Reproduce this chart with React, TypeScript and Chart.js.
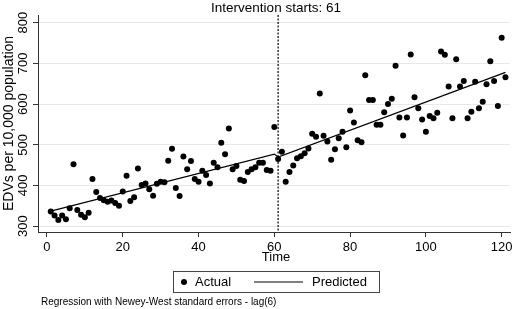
import React, { useEffect, useRef } from 'react';
import { Chart, registerables } from 'chart.js';

Chart.register(...registerables);

const FONT = '"Liberation Sans", Arial, Helvetica, sans-serif';

const titleText = 'Intervention starts: 61';
const yTitle = 'EDVs per 10,000 population';
const xTitle = 'Time';
const noteText = 'Regression with Newey-West standard errors - lag(6)';
const seriesNames = ['Actual', 'Predicted'];

const firstTime = 1;
const interventionTime = 61;

// Actual EDVs, time 1..121
const actualValues = [
  336, 326, 315, 326, 317, 344, 452, 340, 328, 322,
  333, 416, 384, 369, 364, 360, 363, 357, 350, 385,
  424, 362, 371, 442, 401, 405, 391, 375, 404, 409,
  408, 461, 490, 394, 374, 471, 440, 460, 416, 409,
  436, 426, 405, 456, 445, 505, 477, 540, 440, 448,
  414, 411, 433, 440, 445, 456, 456, 438, 436, 544,
  465, 483, 409, 433, 449, 467, 472, 479, 491, 527,
  520, 626, 522, 508, 463, 489, 516, 532, 494, 584,
  555, 511, 506, 671, 610, 610, 549, 549, 580, 600,
  613, 694, 567, 523, 567, 722, 617, 590, 562, 532,
  571, 565, 579, 729, 721, 643, 565, 710, 643, 657,
  565, 581, 655, 590, 606, 649, 705, 657, 595, 763,
  666,
];

// Predicted (segmented regression) line end points
const predictedTimes = [1, 60, 61, 121];
const predictedValues = [337, 477, 470, 678];

const xTickValues = [0, 20, 40, 60, 80, 100, 120];
const yTickValues = [300, 400, 500, 600, 700, 800];

const xMin = -2.37;
const xMax = 122.2;
const yMin = 285.7;
const yMax = 818.9;

const decorPlugin = {
  id: 'decor',
  beforeDatasetsDraw(chart: any) {
    const ctx = chart.ctx;
    const xs = chart.scales.x;
    const area = chart.chartArea;
    const xi = xs.getPixelForValue(interventionTime);
    ctx.save();
    ctx.strokeStyle = '#000';
    ctx.lineWidth = 1.2;
    ctx.setLineDash([2, 1.5]);
    ctx.beginPath();
    ctx.moveTo(xi, area.top);
    ctx.lineTo(xi, area.bottom);
    ctx.stroke();
    ctx.restore();
  },
  afterDraw(chart: any) {
    const ctx = chart.ctx;
    const ys = chart.scales.y;
    const area = chart.chartArea;
    const cx = 276;
    ctx.save();
    ctx.fillStyle = '#000';
    ctx.font = `13px ${FONT}`;
    ctx.textAlign = 'center';
    ctx.textBaseline = 'middle';
    // y tick labels (vertical)
    for (const v of yTickValues) {
      const py = ys.getPixelForValue(v);
      ctx.save();
      ctx.translate(23, py);
      ctx.rotate(-Math.PI / 2);
      ctx.fillText(String(v), 0, 0);
      ctx.restore();
    }
    // y title
    ctx.save();
    ctx.font = `14px ${FONT}`;
    ctx.translate(9, (area.top + area.bottom) / 2);
    ctx.rotate(-Math.PI / 2);
    ctx.fillText(yTitle, 0, 0);
    ctx.restore();
    // x title
    ctx.fillText(xTitle, cx, 257);
    // title
    ctx.font = `13.5px ${FONT}`;
    ctx.fillText(titleText, cx, 8);
    // legend
    ctx.font = `13px ${FONT}`;
    ctx.strokeStyle = '#444';
    ctx.lineWidth = 1;
    ctx.strokeRect(173.5, 271.5, 206, 21);
    ctx.beginPath();
    ctx.arc(184, 282, 3, 0, Math.PI * 2);
    ctx.fill();
    ctx.textAlign = 'left';
    ctx.fillText(seriesNames[0], 195, 282);
    ctx.strokeStyle = '#000';
    ctx.lineWidth = 1.2;
    ctx.beginPath();
    ctx.moveTo(254, 282);
    ctx.lineTo(303, 282);
    ctx.stroke();
    ctx.fillText(seriesNames[1], 312, 282);
    // note
    ctx.font = `10px ${FONT}`;
    ctx.fillText(noteText, 41, 302);
    ctx.restore();
  },
};

export default function App() {
  const canvasRef = useRef<HTMLCanvasElement | null>(null);

  useEffect(() => {
    document.body.style.margin = '0';
    document.body.style.background = '#fff';
    const canvas = canvasRef.current;
    if (!canvas) return;
    const actualData = actualValues.map((v, i) => ({ x: firstTime + i, y: v }));
    const predictedData = predictedTimes.map((t, i) => ({ x: t, y: predictedValues[i] }));
    const chart = new Chart(canvas, {
      type: 'scatter',
      data: {
        datasets: [
          {
            label: seriesNames[0],
            data: actualData,
            backgroundColor: '#000',
            borderColor: '#000',
            pointRadius: 3,
            pointBorderWidth: 0,
            showLine: false,
            order: 1,
          },
          {
            label: seriesNames[1],
            data: predictedData,
            borderColor: '#000',
            backgroundColor: '#000',
            borderWidth: 1.2,
            pointRadius: 0,
            showLine: true,
            tension: 0,
            order: 0,
          },
        ],
      },
      options: {
        animation: false,
        responsive: false,
        maintainAspectRatio: false,
        devicePixelRatio: 1,
        layout: { padding: { top: 15, right: 6, left: 0, bottom: 0 } },
        plugins: {
          legend: { display: false },
          title: { display: false },
          tooltip: { enabled: false },
        },
        scales: {
          x: {
            type: 'linear',
            min: xMin,
            max: xMax,
            afterBuildTicks: (s: any) => {
              s.ticks = xTickValues.map((v) => ({ value: v }));
            },
            afterFit: (s: any) => {
              s.height = 77;
            },
            grid: {
              drawOnChartArea: false,
              tickLength: 5,
              tickColor: '#333',
              tickWidth: 1,
            },
            border: { color: '#333', width: 1 },
            ticks: {
              font: { family: FONT, size: 13 },
              color: '#000',
              padding: 3,
              maxRotation: 0,
              autoSkip: false,
            },
          },
          y: {
            type: 'linear',
            min: yMin,
            max: yMax,
            afterBuildTicks: (s: any) => {
              s.ticks = yTickValues.map((v) => ({ value: v }));
            },
            afterFit: (s: any) => {
              s.width = 38;
            },
            grid: {
              color: '#e8e8e8',
              lineWidth: 1,
              tickLength: 5,
              tickColor: '#333',
              tickWidth: 1,
            },
            border: { color: '#333', width: 1 },
            ticks: { display: false },
          },
        },
      },
      plugins: [decorPlugin],
    });
    return () => chart.destroy();
  }, []);

  return (
    <div style={{ width: 516, height: 309 }}>
      <canvas ref={canvasRef} width={516} height={309} style={{ width: 516, height: 309, display: 'block' }} />
    </div>
  );
}
